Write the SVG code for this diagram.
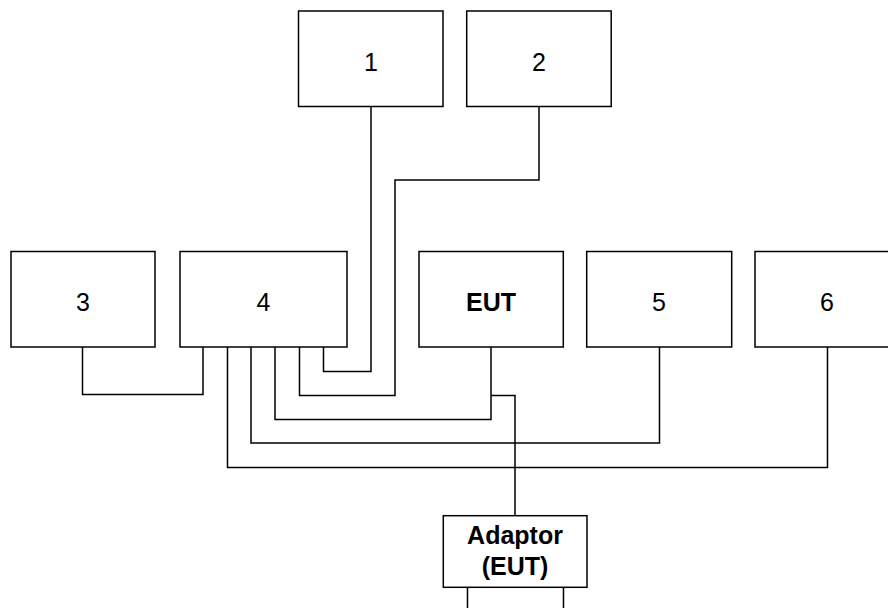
<svg xmlns="http://www.w3.org/2000/svg" width="888" height="608" viewBox="0 0 888 608">
<style>
.box{fill:#fff;stroke:#000;stroke-width:1.5}
.lbl{font-family:"Liberation Sans",Arial,sans-serif;font-size:25px;text-anchor:middle;fill:#000}
.b{font-weight:bold}
.wire{fill:none;stroke:#000;stroke-width:1.5}
</style>
<rect width="888" height="608" fill="#fff"/>
<g id="connectors">
<path class="wire" d="M371 106.5V371.5H323.5V347"/>
<path class="wire" d="M539 106.5V180H395V395.5H299.5V347"/>
<path class="wire" d="M82.5 347V394.5H203V347"/>
<path class="wire" d="M491 347V419.5H275V347"/>
<path class="wire" d="M491 395.5H515V515.7"/>
<path class="wire" d="M659.5 347V443H251V347"/>
<path class="wire" d="M827.5 347V467.5H227.5V347"/>
<path class="wire" d="M467.5 587.3V608M563.5 587.3V608"/>
</g>
<g id="n1"><rect class="box" x="298.5" y="11" width="144.5" height="95.5"/><text class="lbl" x="371" y="70.5">1</text></g>
<g id="n2"><rect class="box" x="466.7" y="11" width="144.5" height="95.5"/><text class="lbl" x="539" y="70.5">2</text></g>
<g id="n3"><rect class="box" x="11" y="251.5" width="144" height="95.5"/><text class="lbl" x="83" y="310.5">3</text></g>
<g id="n4"><rect class="box" x="180" y="251.5" width="167" height="95.5"/><text class="lbl" x="263.5" y="310.5">4</text></g>
<g id="eut"><rect class="box" x="419" y="251.5" width="144.3" height="95.5"/><text class="lbl b" x="491" y="310.5">EUT</text></g>
<g id="n5"><rect class="box" x="586.7" y="251.5" width="145" height="95.5"/><text class="lbl" x="659" y="310.5">5</text></g>
<g id="n6"><rect class="box" x="755" y="251.5" width="144" height="95.5"/><text class="lbl" x="827" y="310.5">6</text></g>
<g id="adaptor"><rect class="box" x="443.3" y="515.7" width="143.7" height="71.6"/><text class="lbl b" x="515" y="544">Adaptor</text><text class="lbl b" x="515" y="575">(EUT)</text></g>
</svg>
